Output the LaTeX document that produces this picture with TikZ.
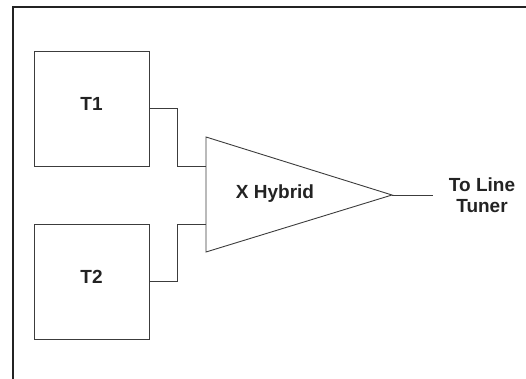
\documentclass[tikz,border=0pt]{standalone}
\usepackage{fontspec}
\setmainfont{Liberation Sans}
\usetikzlibrary{positioning, calc}
\definecolor{framegray}{RGB}{35,35,35}
\definecolor{linegray}{RGB}{60,60,60}

\begin{document}
\begin{tikzpicture}[
    x=1pt, y=-1pt,
    unitbox/.style={draw=linegray, line width=0.9pt, minimum width=115pt, minimum height=115pt, inner sep=0pt},
    wire/.style={draw=linegray, line width=0.9pt},
    lbl/.style={font=\fontsize{19}{21}\selectfont\bfseries, text=framegray, align=center, inner sep=0pt},
]
    \useasboundingbox (0,0) rectangle (526,379);
    \clip (0,0) rectangle (526,379);
    % outer frame, cut off at right and bottom
    \draw[framegray, line width=2.6pt] (13,7) rectangle (560,400);

    % transmitter boxes
    \node[unitbox] (t1) at (91.5,108.5) {};
    \node[unitbox] (t2) at (91.5,281.5) {};
    \node[lbl] at ([yshift=5pt]t1.center) {T1};
    \node[lbl] at ([yshift=5pt]t2.center) {T2};

    % hybrid triangle
    \coordinate (htop) at (206,137);
    \coordinate (hbot) at (206,252);
    \coordinate (htip) at (392,195);
    \coordinate (hin1) at (206,166);
    \coordinate (hin2) at (206,224);
    \draw[wire, line join=miter] (htop) -- (htip) -- (hbot) -- cycle;
    \node[lbl] (hyb) at (275,194) {X Hybrid};

    % output label
    \node[lbl] (out) at (482,195.5) {To Line\\Tuner};
    \coordinate (outend) at (433,195);

    % connectors
    \draw[wire] (t1.east) -| (177,166) -- (hin1);
    \draw[wire] (t2.east) -| (177,224) -- (hin2);
    \draw[wire] (htip) -- (outend);
\end{tikzpicture}
\end{document}
